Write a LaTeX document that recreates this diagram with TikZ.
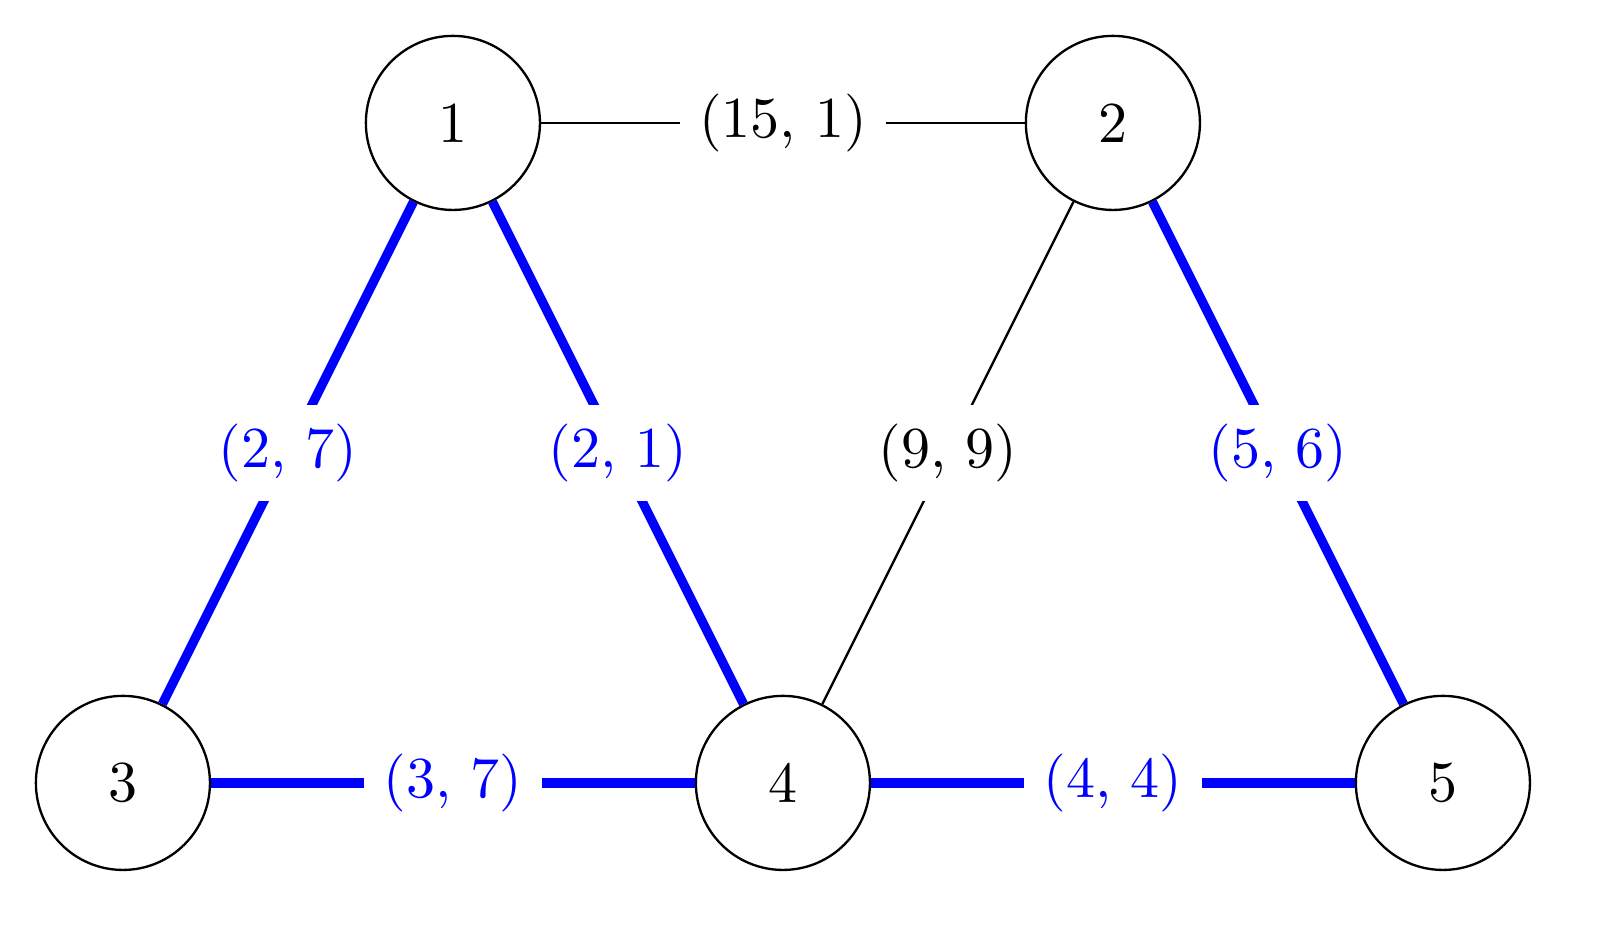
\documentclass[tikz,border=0pt]{standalone}
\usepackage{tikz}

\begin{document}
\begin{tikzpicture}
[vertexNode/.style={circle,draw,thin,minimum size=1.055cm,inner sep=0pt},%
  edgePlain/.style={-,thin,black},%
  edgeTree/.style={-,line width=1.6pt,blue},%
  weightLabel/.style={fill=white,midway}]
\useasboundingbox (-0.745,-0.861) rectangle (8.952,4.745);
%% vertices of the graph
\foreach \nodename/\x/\y in {1/2/4, 2/6/4, 3/0/0, 4/4/0, 5/8/0}
{
  \node (\nodename) at (\x,\y) [vertexNode] {\nodename};
}
%% edges not in the tree
\draw[edgePlain] (1) -- (2) node[weightLabel] {(15, 1)};
\draw[edgePlain] (2) -- (4) node[weightLabel] {(9, 9)};
%% edges of the tree
\draw[edgeTree] (1) -- (3) node[weightLabel] {(2, 7)};
\draw[edgeTree] (1) -- (4) node[weightLabel] {(2, 1)};
\draw[edgeTree] (2) -- (5) node[weightLabel] {(5, 6)};
\draw[edgeTree] (3) -- (4) node[weightLabel] {(3, 7)};
\draw[edgeTree] (4) -- (5) node[weightLabel] {(4, 4)};
\end{tikzpicture}
\end{document}
